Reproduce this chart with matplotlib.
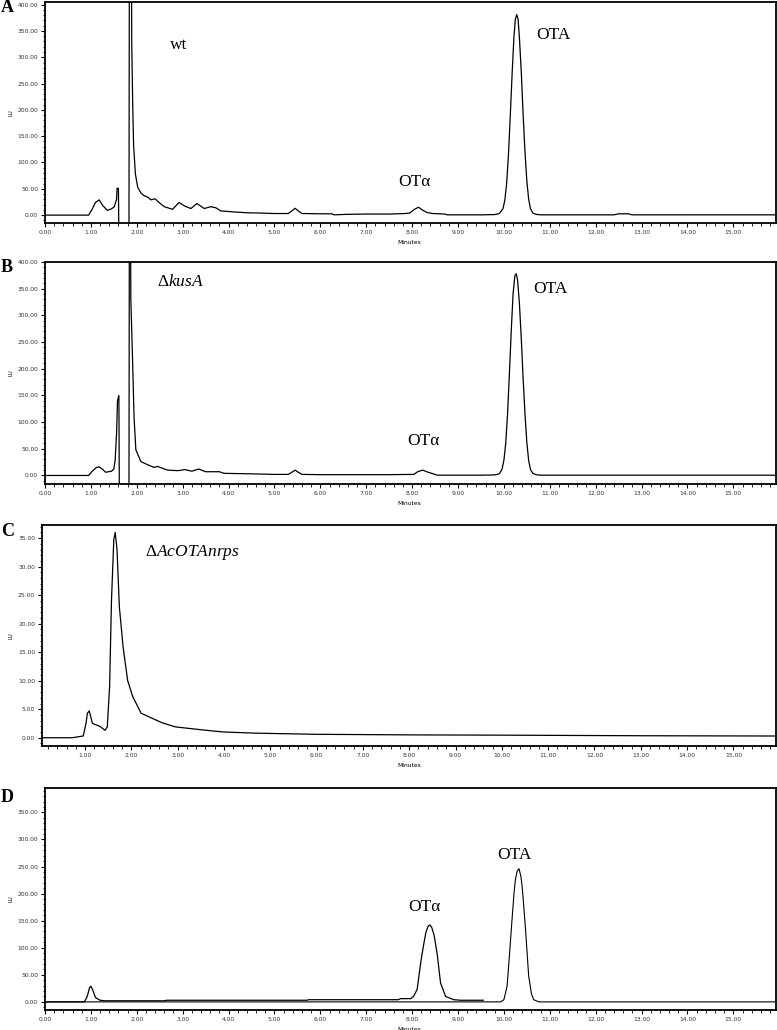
import matplotlib.pyplot as plt
from matplotlib.ticker import MultipleLocator, FormatStrFormatter

plt.rcParams["mathtext.fontset"] = "custom"
plt.rcParams["mathtext.rm"] = "Liberation Serif"
plt.rcParams["mathtext.it"] = "Liberation Serif:italic"

# --- panel A: wild type ---
a_time = [0.0, 0.95, 1.02, 1.10, 1.18, 1.26, 1.36, 1.45, 1.51, 1.56, 1.57, 1.60, 1.61,
          1.83, 1.84, 1.86, 1.88, 1.89, 1.91, 1.93, 1.97, 2.02, 2.09, 2.16, 2.24, 2.31,
          2.40, 2.47, 2.60, 2.78, 2.92, 3.05, 3.18, 3.31, 3.47, 3.61, 3.72, 3.83, 4.12,
          4.41, 4.66, 5.0, 5.30, 5.38, 5.45, 5.52, 5.60, 6.0, 6.25, 6.3, 6.6, 7.0, 7.5,
          7.85, 7.95, 8.05, 8.14, 8.22, 8.32, 8.45, 8.72, 8.76, 9.5, 9.80, 9.90, 9.98,
          10.02, 10.06, 10.10, 10.14, 10.18, 10.22, 10.25, 10.28, 10.31, 10.34, 10.38,
          10.42, 10.46, 10.50, 10.54, 10.58, 10.63, 10.70, 10.8,
          12.4, 12.5, 12.7, 12.8, 16.0]
a_signal = [0, 0, 10, 24, 29, 18, 9, 12, 16, 30, 51, 51, -40,
            -40, 600, 600, 600, 328, 216, 134, 78, 53, 42, 37, 34, 29,
            31, 25, 16, 11, 24, 17, 12.5, 22, 12.5, 16, 14, 8, 6,
            4.4, 4, 3, 3, 8, 13, 8, 3, 2.5, 2.5, 0.5, 1.5, 2, 2,
            3, 4, 11, 15, 10, 5, 3, 2, 0.5, 0.5, 1, 3, 12,
            28, 60, 115, 190, 270, 340, 372, 381, 372, 335, 270,
            190, 120, 65, 30, 12, 4, 1.5, 0.5,
            0.5, 2.5, 2.5, 0.5, 0.5]

# --- panel B: delta kusA ---
b_time = [0.0, 0.95, 1.03, 1.12, 1.18, 1.25, 1.32, 1.45, 1.50, 1.53, 1.56, 1.58, 1.61,
          1.62, 1.83, 1.84, 1.86, 1.87, 1.91, 1.94, 1.98, 2.09, 2.24, 2.38, 2.45, 2.67,
          2.90, 3.05, 3.20, 3.35, 3.50, 3.65, 3.80, 3.90, 4.5, 5.0, 5.30, 5.38, 5.45, 5.52,
          5.60, 6.0, 7.5, 8.04, 8.12, 8.23, 8.35, 8.50, 8.55, 9.5, 9.80, 9.90, 9.96,
          10.00, 10.04, 10.08, 10.12, 10.16, 10.20, 10.24, 10.27, 10.30, 10.34, 10.38,
          10.42, 10.46, 10.50, 10.54, 10.58, 10.63, 10.70, 10.8, 16.0]
b_signal = [0, 0, 8, 15, 16, 12, 6, 8, 12, 30, 80, 140, 150,
            -40, -40, 600, 600, 332, 211, 110, 48, 26, 20, 15, 17, 10,
            9, 11, 8, 12, 7, 7, 7, 4, 3, 2, 2, 6, 10, 6,
            2, 1.5, 1.5, 2, 7, 10, 6, 2, 0.5, 0.5, 1, 3, 12,
            28, 60, 115, 190, 270, 340, 375, 378, 365, 320, 255,
            180, 115, 62, 28, 11, 4, 1.5, 0.5, 0.5]

# --- panel C: delta AcOTAnrps ---
c_time = [0.07, 0.72, 0.96, 1.02, 1.05, 1.09, 1.16, 1.32, 1.43, 1.48, 1.53, 1.57, 1.62,
          1.65, 1.69, 1.74, 1.82, 1.92, 2.03, 2.21, 2.45, 2.67, 2.95, 3.45, 3.80, 4.01,
          4.69, 6.0, 8.0, 10.0, 13.0, 16.0]
c_signal = [0, 0, 0.3, 2.5, 4.3, 4.7, 2.5, 2.0, 1.3, 1.9, 9, 24, 34.7,
            36, 33, 23, 16, 10, 7.2, 4.3, 3.4, 2.6, 1.9, 1.45, 1.15, 1.0,
            0.8, 0.6, 0.5, 0.45, 0.35, 0.3]

# --- panel D: standards (two overlaid traces) ---
d1_time = [0.0, 0.86, 0.92, 0.97, 1.0, 1.04, 1.10, 1.20, 1.30, 2.60, 2.65, 5.70, 5.75,
           7.70, 7.75, 7.97, 8.03, 8.11, 8.19, 8.25, 8.30, 8.35, 8.39, 8.43, 8.48, 8.55,
           8.62, 8.73, 8.91, 9.06, 9.55]
d1_signal = [0, 0, 10, 26, 29, 22, 8, 3, 2, 2, 3, 3, 4,
             4, 6, 6, 10, 23, 74, 105, 128, 140, 142, 137, 123, 86,
             35, 10, 4, 3, 3]
d2_time = [0.0, 9.93, 10.00, 10.07, 10.12, 10.18, 10.22, 10.25, 10.29, 10.33, 10.37,
           10.40, 10.47, 10.54, 10.60, 10.65, 10.76, 16.0]
d2_signal = [0, 0, 4, 29, 85, 155, 200, 225, 242, 246, 232, 212, 136, 48, 15, 4, 0, 0]

W, H = 777, 1030


def fx(px):
    return px / W


def fy(py):
    return 1 - py / H


fig = plt.figure(figsize=(W / 100, H / 100), dpi=100)

panels = [
    # letter, (left, top, right, bottom) in px, xlim, ylim, y major, y minor
    ("A", (45, 2, 776, 223), (0.0, 15.93), (-15, 405), 50, 10),
    ("B", (45, 262, 776, 484), (0.0, 15.93), (-16, 400), 50, 10),
    ("C", (42, 525, 776, 746), (0.07, 15.92), (-1.45, 37.3), 5, 1),
    ("D", (45, 788, 776, 1010), (0.0, 15.93), (-15, 395), 50, 10),
]

axes = []
for letter, (l, t, r, b), xl, yl, ymaj, ymin in panels:
    ax = fig.add_axes([fx(l), fy(b), fx(r) - fx(l), fy(t) - fy(b)])
    ax.set_xlim(*xl)
    ax.set_ylim(*yl)
    ax.xaxis.set_major_locator(MultipleLocator(1))
    ax.xaxis.set_minor_locator(MultipleLocator(0.2))
    ax.yaxis.set_major_locator(MultipleLocator(ymaj))
    ax.yaxis.set_minor_locator(MultipleLocator(ymin))
    ax.xaxis.set_major_formatter(FormatStrFormatter("%.2f"))
    ax.yaxis.set_major_formatter(FormatStrFormatter("%.2f"))
    ax.tick_params(which="major", direction="out", length=3, width=0.8,
                   labelsize=4.3, labelcolor="#333333", pad=2)
    ax.tick_params(which="minor", direction="out", length=1.8, width=0.6)
    for s in ax.spines.values():
        s.set_linewidth(1.3)
    ax.set_ylabel("LU", fontsize=4, labelpad=3)
    ax.set_xlabel("Minutes", fontsize=4.3, labelpad=2)
    ax.xaxis.set_label_coords((409 - l) / (r - l), -0.075)
    fig.text(fx(1), fy({"A": 8, "B": 267, "C": 531, "D": 797}[letter]), letter,
             family="Liberation Serif", fontweight="bold", fontsize=13,
             ha="left", va="center")
    axes.append(ax)

ax_a, ax_b, ax_c, ax_d = axes
ax_a.plot(a_time, a_signal, color="black", lw=0.9)
ax_b.plot(b_time, b_signal, color="black", lw=0.9)
ax_c.plot(c_time, c_signal, color="black", lw=0.9)
ax_d.plot(d1_time, d1_signal, color="black", lw=0.9)
ax_d.plot(d2_time, d2_signal, color="black", lw=0.8)

serif = dict(family="Liberation Serif", fontsize=12.5, ha="center", va="center")
fig.text(fx(179), fy(45), "wt", **serif)
fig.text(fx(553), fy(35), "OTA", **serif)
fig.text(fx(414), fy(182), "OTα", **serif)
fig.text(fx(181), fy(282), r"$\Delta\mathit{kusA}$", **serif)
fig.text(fx(550), fy(289), "OTA", **serif)
fig.text(fx(423), fy(441), "OTα", **serif)
fig.text(fx(192), fy(552), r"$\Delta\mathit{AcOTAnrps}$", **serif)
fig.text(fx(514), fy(855), "OTA", **serif)
fig.text(fx(424), fy(907), "OTα", **serif)

fig.savefig("out.png", dpi=100)
